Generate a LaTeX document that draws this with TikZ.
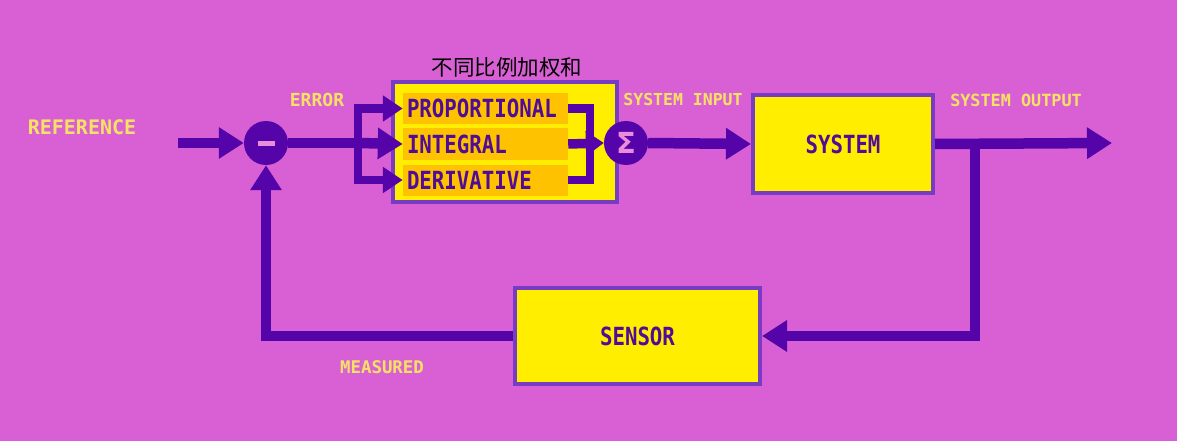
\documentclass[tikz,border=0pt]{standalone}
\usepackage{fontspec}
\setmonofont{DejaVu Sans Mono}
\newfontfamily\pxbox[FakeStretch=0.83]{DejaVu Sans Mono}
\newfontfamily\cjk{Noto Sans CJK SC}
\newfontfamily\dvs{DejaVu Sans}
\usetikzlibrary{arrows.meta}
\definecolor{bg}{RGB}{216,96,212}
\definecolor{line}{RGB}{84,4,168}
\definecolor{border}{RGB}{118,60,196}
\definecolor{ybox}{RGB}{255,238,0}
\definecolor{obox}{RGB}{255,194,0}
\definecolor{lbl}{RGB}{248,226,100}
\definecolor{boxtext}{RGB}{80,12,150}
\definecolor{pinkbar}{RGB}{236,140,220}
\begin{document}
\begin{tikzpicture}[x=1pt,y=-1pt,
  lab/.style={font=\ttfamily\bfseries\fontsize{18}{18}\selectfont, text=lbl, inner sep=0pt},
  ybx/.style={draw=border, line width=4pt, fill=ybox, font=\pxbox\bfseries\fontsize{25}{25}\selectfont, text=boxtext},
  obx/.style={fill=obox, minimum width=165pt, minimum height=31pt, text width=157pt, align=left, inner sep=4pt, font=\pxbox\bfseries\fontsize{25}{25}\selectfont, text=boxtext},
  circ/.style={circle, fill=line, minimum size=44pt, inner sep=0pt},
  wire/.style={draw=line, line width=10.5pt},
  arr/.style={wire, -{Triangle[length=25pt,width=30pt]}},
  sarr/.style={draw=line, line width=8.5pt, -{Triangle[length=20pt,width=25pt]}},
]
\fill[bg] (0,0) rectangle (1177,441);
\useasboundingbox (0,0) rectangle (1177,441);

% nodes
\node[circ] (minus) at (266,143) {\color{pinkbar}\rule[-2.5pt]{17pt}{5pt}};
\node[ybx, minimum width=224pt, minimum height=120pt] (pid) at (505,142) {};
\node[obx] (P) at (485.5,108.5) {PROPORTIONAL};
\node[obx] (I) at (485.5,144) {INTEGRAL};
\node[obx] (D) at (485.5,180) {DERIVATIVE};
\node[circ] (sig) at (626,143) {\dvs\bfseries\fontsize{29}{29}\selectfont\color{pinkbar}Σ};
\node[ybx, minimum width=180pt, minimum height=98pt] (sys) at (843,144) {SYSTEM};
\node[ybx, minimum width=245pt, minimum height=96pt] (sen) at (637.5,336) {SENSOR};

% labels
\node[lab, font=\ttfamily\bfseries\fontsize{20}{20}\selectfont] (lref) at (82,127) {REFERENCE};
\node[lab] (lerr) at (317,100) {ERROR};
\node[lab, font=\ttfamily\bfseries\fontsize{16.5}{16.5}\selectfont] (lin) at (683,99) {SYSTEM INPUT};
\node[lab, font=\ttfamily\bfseries\fontsize{16.8}{16.8}\selectfont] (lout) at (1016,100) {SYSTEM OUTPUT};
\node[lab, font=\ttfamily\bfseries\fontsize{17.4}{17.4}\selectfont] (lmeas) at (382,367) {MEASURED};
\node[font=\cjk\fontsize{21.5}{21.5}\selectfont, text=black, inner sep=0pt] (title) at (507,67) {不同比例加权和};

% coordinates
\coordinate (refin) at (178,143);
\coordinate (br) at (358,143);
\coordinate (jn) at (590,143);
\coordinate (out) at (1112,143);
\coordinate (fb) at (975,143);

% connectors
\draw[arr] (refin) -- (minus.west);
\draw[wire] (minus.east) -- (br);
\draw[sarr, line join=miter] (br) |- (P.west);
\draw[sarr, line join=miter] (br) |- (D.west);
\draw[arr] (br) -- (I.west);
\draw[draw=line, line width=8.5pt, line join=miter] (P.east) -| (jn) |- (D.east);
\draw[draw=line, line width=9.5pt, -{Triangle[length=18pt,width=24pt]}] (I.east) -- (sig.west);
\draw[arr] (sig.east) -- (sys.west);
\draw[arr] (sys.east) -- (out);
\draw[arr, line join=miter] (fb) |- (sen.east);
\draw[arr, line join=miter] (sen.west) -| (minus.south);
\end{tikzpicture}
\end{document}
